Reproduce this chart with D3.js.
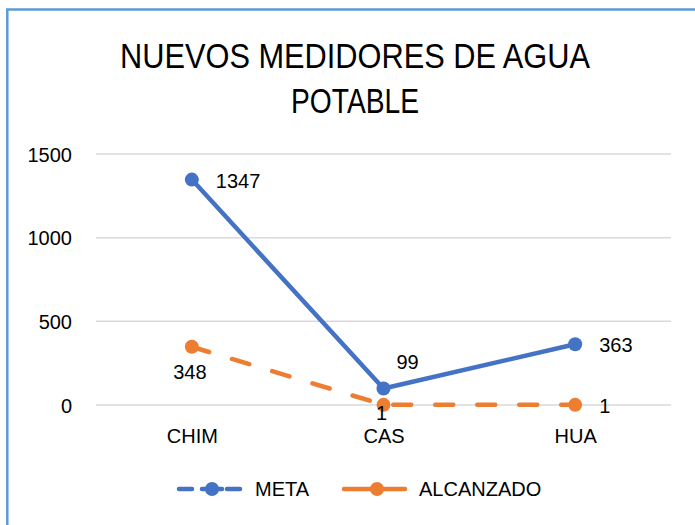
<!DOCTYPE html>
<html>
<head>
<meta charset="utf-8">
<script src="https://cdn.jsdelivr.net/npm/d3@7"></script>
<style>
  body { margin: 0; background: #fff; }
  svg { display: block; font-family: "Liberation Sans", Arial, sans-serif; }
</style>
</head>
<body>
<div id="chart"></div>
<script>
var categories = ['CHIM', 'CAS', 'HUA'];
var metaValues = [1347, 99, 363];
var alcanzadoValues = [348, 1, 1];
var yTicks = [0, 500, 1000, 1500];
var titleLines = ['NUEVOS MEDIDORES DE AGUA', 'POTABLE'];

// label placement per point, like Excel's data label positions
var metaLabelPos = ['right', 'aboveRight', 'right'];
var alcanzadoLabelPos = ['below', 'below', 'right'];

var width = 695,
    height = 525,
    blue = '#4472c4',
    orange = '#ed7d31',
    gridColor = '#d9d9d9',
    frameColor = '#5b9bd5',
    lineWidth = 4.5,
    markerR = 7;

var svg = d3.select('#chart').append('svg')
  .attr('width', width)
  .attr('height', height);

svg.append('rect').attr('width', width).attr('height', height).attr('fill', '#fff');

// chart frame (only left/top visible in the crop)
svg.append('rect')
  .attr('x', 7.3).attr('y', 9.5)
  .attr('width', 800).attr('height', 700)
  .attr('fill', 'none')
  .attr('stroke', frameColor)
  .attr('stroke-width', 2.5);

// title
svg.append('g').selectAll('text')
  .data(titleLines)
  .enter().append('text')
  .attr('x', 355)
  .attr('y', function(d, i) { return 68 + i * 45; })
  .attr('text-anchor', 'middle')
  .attr('font-size', 35)
  .attr('fill', '#000')
  .attr('textLength', function(d, i) { return i === 0 ? 470 : 128; })
  .attr('lengthAdjust', 'spacingAndGlyphs')
  .text(function(d) { return d; });

var x = d3.scalePoint().domain(categories).range([96, 671]).padding(0.5);
var y = d3.scaleLinear().domain([0, 1500]).range([405, 154]);

// gridlines
svg.append('g').selectAll('line')
  .data(yTicks)
  .enter().append('line')
  .attr('x1', 96).attr('x2', 671)
  .attr('y1', function(d) { return y(d); })
  .attr('y2', function(d) { return y(d); })
  .attr('stroke', gridColor)
  .attr('stroke-width', 1.5);

// y axis labels
var yAxis = svg.append('g')
  .attr('transform', 'translate(80,0)')
  .call(d3.axisLeft(y).tickValues(yTicks).tickFormat(d3.format('d')).tickSize(0).tickPadding(8));
yAxis.select('.domain').remove();
yAxis.selectAll('text')
  .attr('font-family', '"Liberation Sans", Arial, sans-serif')
  .attr('font-size', 20)
  .attr('fill', '#000')
  .attr('dy', '0.36em');

// x axis labels
var xAxis = svg.append('g')
  .attr('transform', 'translate(0,405)')
  .call(d3.axisBottom(x).tickSize(0).tickPadding(24));
xAxis.select('.domain').remove();
xAxis.selectAll('text')
  .attr('font-family', '"Liberation Sans", Arial, sans-serif')
  .attr('font-size', 20)
  .attr('fill', '#000');

var line = d3.line()
  .x(function(d, i) { return x(categories[i]); })
  .y(function(d) { return y(d); });

// ALCANZADO (dashed)
svg.append('path')
  .datum(alcanzadoValues)
  .attr('d', line)
  .attr('fill', 'none')
  .attr('stroke', orange)
  .attr('stroke-width', lineWidth)
  .attr('stroke-linecap', 'round')
  .attr('stroke-dasharray', '18,24');

// META (solid)
svg.append('path')
  .datum(metaValues)
  .attr('d', line)
  .attr('fill', 'none')
  .attr('stroke', blue)
  .attr('stroke-width', lineWidth)
  .attr('stroke-linejoin', 'round');

function drawMarkers(values, color) {
  svg.append('g').selectAll('circle')
    .data(values)
    .enter().append('circle')
    .attr('cx', function(d, i) { return x(categories[i]); })
    .attr('cy', function(d) { return y(d); })
    .attr('r', markerR)
    .attr('fill', color);
}
drawMarkers(alcanzadoValues, orange);
drawMarkers(metaValues, blue);

var labelOffsets = {
  right: { dx: 24, dy: 8, anchor: 'start' },
  aboveRight: { dx: 13, dy: -19, anchor: 'start' },
  below: { dx: -2, dy: 32, anchor: 'middle' }
};

function drawLabels(values, positions) {
  svg.append('g').selectAll('text')
    .data(values)
    .enter().append('text')
    .attr('x', function(d, i) { return x(categories[i]) + labelOffsets[positions[i]].dx; })
    .attr('y', function(d, i) {
      var off = labelOffsets[positions[i]].dy;
      if (positions[i] === 'below' && d < 50) off = 15;
      return y(d) + off;
    })
    .attr('text-anchor', function(d, i) { return labelOffsets[positions[i]].anchor; })
    .attr('font-size', 20)
    .attr('fill', '#000')
    .text(function(d) { return d; });
}
drawLabels(metaValues, metaLabelPos);
drawLabels(alcanzadoValues, alcanzadoLabelPos);

// legend (sample styles as shown in the original)
var legend = svg.append('g').attr('transform', 'translate(0,489)');

legend.selectAll('line.meta')
  .data([[179, 192], [227, 240]])
  .enter().append('line')
  .attr('class', 'meta')
  .attr('x1', function(d) { return d[0]; })
  .attr('x2', function(d) { return d[1]; })
  .attr('stroke', blue).attr('stroke-width', lineWidth)
  .attr('stroke-linecap', 'round');
legend.append('line')
  .attr('x1', 202).attr('x2', 222)
  .attr('stroke', blue).attr('stroke-width', lineWidth)
  .attr('stroke-linecap', 'round');
legend.append('circle').attr('cx', 212).attr('r', markerR).attr('fill', blue);
legend.append('text')
  .attr('x', 255).attr('y', 7)
  .attr('font-size', 20).attr('fill', '#000')
  .text('META');

legend.append('line')
  .attr('x1', 344).attr('x2', 405)
  .attr('stroke', orange).attr('stroke-width', lineWidth)
  .attr('stroke-linecap', 'round');
legend.append('circle').attr('cx', 377).attr('r', markerR).attr('fill', orange);
legend.append('text')
  .attr('x', 419).attr('y', 7)
  .attr('font-size', 20).attr('fill', '#000')
  .text('ALCANZADO');
</script>
</body>
</html>
